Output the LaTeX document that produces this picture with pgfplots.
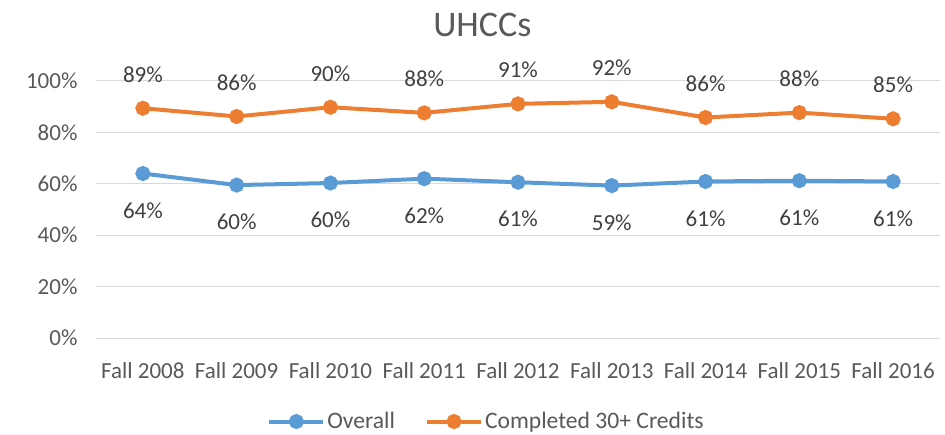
\documentclass[border=0pt]{standalone}
\usepackage{pgfplots}
\pgfplotsset{compat=1.18}
\usepackage{fontspec}
\setmainfont{Carlito}

\definecolor{ovblue}{HTML}{5B9BD5}
\definecolor{coorange}{HTML}{ED7D31}
\definecolor{txtgray}{HTML}{595959}
\definecolor{lblgray}{HTML}{404040}
\definecolor{gridgray}{HTML}{D9D9D9}

\begin{document}
\begin{tikzpicture}
% whole chart area: 945 x 434, plot area corner at the origin
\useasboundingbox (-96pt,-96pt) rectangle (849pt,338pt);
\begin{axis}[
    scale only axis,
    width=844pt, height=257pt,
    xmin=-0.5, xmax=8.5,
    ymin=0, ymax=100,
    xtick={0,...,8},
    xticklabels={Fall 2008,Fall 2009,Fall 2010,Fall 2011,Fall 2012,Fall 2013,Fall 2014,Fall 2015,Fall 2016},
    ytick={0,20,...,100},
    yticklabel={\pgfmathprintnumber{\tick}\%},
    /pgf/number format/assume math mode=true,
    ymajorgrids,
    grid style={draw=gridgray, line width=1pt},
    axis line style={draw=none},
    major tick length=0pt,
    ticklabel style={font=\fontsize{23}{27}\selectfont, text=txtgray},
    xticklabel style={yshift=-21pt},
    yticklabel style={xshift=-15pt},
    clip=false,
    point meta=explicit symbolic,
    nodes near coords,
    every node near coord/.append style={font=\fontsize{23}{27}\selectfont, text=lblgray, inner sep=0pt},
    legend style={at={(rel axis cs:0.4627,-0.325)}, anchor=center, draw=none,
      font=\fontsize{23.6}{28}\selectfont, text=txtgray,
      legend columns=2, inner sep=0pt,
      /tikz/every even column/.append style={column sep=28pt}},
    legend image code/.code={%
      \draw[mark repeat=2,mark phase=2,#1] plot coordinates {(0pt,0pt) (27pt,0pt) (54pt,0pt)};},
    every axis plot/.append style={line width=4pt, mark=*, mark size=5.5pt},
]
\addplot[color=ovblue, mark options={fill=ovblue, draw=ovblue},
    nodes near coords style={anchor=north, yshift=-27pt}]
  coordinates {
    (0,64.0) [64\%]
    (1,59.5) [60\%]
    (2,60.3) [60\%]
    (3,62.0) [62\%]
    (4,60.6) [61\%]
    (5,59.3) [59\%]
    (6,60.9) [61\%]
    (7,61.2) [61\%]
    (8,60.9) [61\%]
  };
\addlegendentry{Overall}
\addplot[color=coorange, mark options={fill=coorange, draw=coorange},
    nodes near coords style={anchor=south, yshift=24pt}]
  coordinates {
    (0,89.4) [89\%]
    (1,86.2) [86\%]
    (2,89.8) [90\%]
    (3,87.6) [88\%]
    (4,91.1) [91\%]
    (5,91.9) [92\%]
    (6,85.8) [86\%]
    (7,87.7) [88\%]
    (8,85.3) [85\%]
  };
\addlegendentry{Completed 30+ Credits}
\node[font=\fontsize{36}{42}\selectfont, text=txtgray, inner sep=0pt] at (rel axis cs:0.4578,1.218) {UHCCs};
\end{axis}
\end{tikzpicture}
\end{document}
